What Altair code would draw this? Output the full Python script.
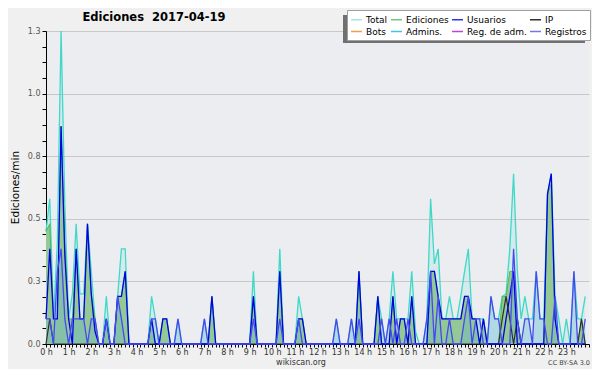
import altair as alt
import pandas as pd

# 10-minute bins over the day (0 h .. 23 h 50)
minutes = [i * 10 for i in range(144)]

total = [
    0.45, 0.58, 0.1, 0.4, 1.25, 0.55, 0.1, 0.2, 0.48, 0.2, 0.2, 0.48,
    0.29, 0.1, 0, 0, 0.19, 0, 0, 0.19, 0.38, 0.38, 0, 0,
    0, 0, 0, 0, 0.19, 0.1, 0, 0.1, 0.1, 0, 0, 0.1,
    0, 0, 0, 0, 0, 0, 0.1, 0, 0.19, 0, 0, 0,
    0, 0, 0, 0, 0, 0, 0, 0.29, 0, 0, 0, 0,
    0, 0, 0.38, 0, 0, 0, 0, 0.19, 0.1, 0, 0, 0,
    0, 0, 0, 0, 0, 0.1, 0, 0, 0, 0.1, 0, 0.29,
    0, 0, 0, 0, 0.19, 0.1, 0, 0.1, 0.29, 0.1, 0.1, 0.1,
    0.1, 0.29, 0.05, 0, 0, 0.1, 0.58, 0.32, 0.38, 0.1, 0.1, 0.19,
    0.1, 0.1, 0.19, 0.29, 0.38, 0.1, 0.1, 0.1, 0.1, 0, 0.19, 0.1,
    0.1, 0.19, 0.2, 0.38, 0.68, 0.29, 0.1, 0.19, 0.1, 0.1, 0.29, 0.1,
    0.1, 0.6, 0.68, 0.19, 0.1, 0, 0.1, 0, 0.29, 0.1, 0.1, 0.19,
]
ediciones = [
    0.45, 0.48, 0.1, 0.1, 0.87, 0.4, 0.1, 0.1, 0.38, 0.1, 0.1, 0.48,
    0.2, 0.1, 0, 0, 0.1, 0, 0, 0.19, 0.19, 0.29, 0, 0,
    0, 0, 0, 0, 0.1, 0, 0, 0.1, 0.1, 0, 0, 0,
    0, 0, 0, 0, 0, 0, 0, 0, 0.19, 0, 0, 0,
    0, 0, 0, 0, 0, 0, 0, 0.19, 0, 0, 0, 0,
    0, 0, 0.29, 0, 0, 0, 0, 0.1, 0.1, 0, 0, 0,
    0, 0, 0, 0, 0, 0, 0, 0, 0, 0, 0, 0.29,
    0, 0, 0, 0, 0.19, 0, 0, 0, 0.19, 0, 0.1, 0.1,
    0, 0.19, 0, 0, 0, 0, 0.29, 0.29, 0.19, 0.1, 0.1, 0.1,
    0.1, 0.1, 0.1, 0.19, 0.19, 0.1, 0.1, 0, 0.1, 0, 0, 0,
    0, 0.19, 0.19, 0.29, 0.29, 0.1, 0, 0, 0, 0, 0, 0,
    0, 0.6, 0.64, 0.1, 0, 0, 0, 0, 0, 0, 0.1, 0,
]
usuarios = [
    0.1, 0.38, 0.1, 0.1, 0.87, 0.35, 0.1, 0, 0.38, 0.1, 0.1, 0.48,
    0.2, 0.05, 0, 0, 0.1, 0, 0, 0.19, 0.19, 0.29, 0, 0,
    0, 0, 0, 0, 0.1, 0, 0, 0.1, 0.1, 0, 0, 0,
    0, 0, 0, 0, 0, 0, 0, 0, 0.19, 0, 0, 0,
    0, 0, 0, 0, 0, 0, 0, 0.19, 0, 0, 0, 0,
    0, 0, 0.29, 0, 0, 0, 0, 0.1, 0.1, 0, 0, 0,
    0, 0, 0, 0, 0, 0, 0, 0, 0, 0, 0, 0.29,
    0, 0, 0, 0, 0.19, 0, 0, 0, 0.19, 0, 0.1, 0.1,
    0, 0.19, 0, 0, 0, 0, 0.29, 0.29, 0.19, 0.1, 0.1, 0.1,
    0.1, 0.1, 0.1, 0.19, 0.19, 0.1, 0.1, 0, 0.1, 0, 0, 0,
    0, 0, 0.1, 0.19, 0.29, 0, 0, 0, 0, 0, 0, 0,
    0, 0.6, 0.68, 0.1, 0, 0, 0, 0, 0, 0, 0, 0,
]
registros = [
    0.1, 0.1, 0, 0.29, 0.38, 0.1, 0, 0.1, 0.1, 0.1, 0.1, 0,
    0.1, 0.1, 0, 0, 0.1, 0, 0, 0.19, 0.1, 0, 0, 0,
    0, 0, 0, 0, 0.1, 0.1, 0, 0, 0, 0, 0, 0.1,
    0, 0, 0, 0, 0, 0, 0.1, 0, 0, 0, 0, 0,
    0, 0, 0, 0, 0, 0, 0, 0.1, 0, 0, 0, 0,
    0, 0, 0.1, 0, 0, 0, 0, 0.1, 0, 0, 0, 0,
    0, 0, 0, 0, 0, 0.1, 0, 0, 0, 0.1, 0, 0.1,
    0, 0, 0, 0, 0, 0.1, 0, 0.1, 0, 0.1, 0, 0,
    0.1, 0, 0, 0, 0, 0.1, 0.29, 0, 0.19, 0, 0, 0.1,
    0, 0, 0, 0.1, 0.19, 0, 0.1, 0.1, 0, 0, 0.19, 0.1,
    0.1, 0, 0, 0, 0.38, 0.1, 0, 0.1, 0.1, 0, 0.29, 0.1,
    0.1, 0, 0, 0.19, 0, 0, 0, 0, 0.29, 0, 0, 0.1,
]
ip = [
    0, 0.1, 0, 0, 0, 0, 0, 0, 0, 0, 0, 0,
    0, 0, 0, 0, 0, 0, 0, 0, 0, 0, 0, 0,
    0, 0, 0, 0, 0, 0, 0, 0, 0, 0, 0, 0,
    0, 0, 0, 0, 0, 0, 0, 0, 0, 0, 0, 0,
    0, 0, 0, 0, 0, 0, 0, 0, 0, 0, 0, 0,
    0, 0, 0, 0, 0, 0, 0, 0, 0, 0, 0, 0,
    0, 0, 0, 0, 0, 0, 0, 0, 0, 0, 0, 0,
    0, 0, 0, 0, 0, 0, 0, 0, 0, 0, 0, 0,
    0, 0, 0, 0, 0, 0, 0, 0, 0, 0, 0, 0,
    0, 0, 0, 0, 0, 0, 0, 0, 0, 0, 0, 0,
    0, 0.1, 0.19, 0.1, 0, 0.1, 0, 0, 0, 0, 0, 0,
    0, 0, 0, 0, 0, 0, 0, 0, 0, 0, 0.1, 0,
]
bots = [0] * 144
admins = [
    0, 0, 0, 0, 0, 0, 0, 0.1, 0.1, 0.1, 0.1, 0,
    0, 0, 0, 0, 0, 0, 0, 0, 0, 0, 0, 0,
    0, 0, 0, 0, 0, 0, 0, 0, 0, 0, 0, 0,
    0, 0, 0, 0, 0, 0, 0, 0, 0, 0, 0, 0,
    0, 0, 0, 0, 0, 0, 0, 0.19, 0, 0, 0, 0,
    0, 0, 0, 0, 0, 0, 0, 0, 0, 0, 0, 0,
    0, 0, 0, 0, 0, 0, 0, 0, 0, 0, 0, 0,
    0, 0, 0, 0, 0, 0, 0, 0, 0, 0, 0, 0,
    0, 0, 0, 0, 0, 0, 0, 0, 0, 0, 0, 0,
    0, 0, 0, 0, 0, 0, 0, 0, 0, 0, 0, 0,
    0, 0, 0, 0, 0, 0, 0, 0, 0, 0, 0, 0,
    0, 0, 0, 0, 0, 0, 0.1, 0, 0, 0, 0, 0,
]
reg_adm = [
    0, 0, 0, 0, 0, 0, 0, 0, 0, 0, 0, 0,
    0, 0, 0, 0, 0, 0, 0, 0, 0, 0, 0, 0,
    0, 0, 0, 0, 0, 0, 0, 0, 0, 0, 0, 0,
    0, 0, 0, 0, 0, 0, 0, 0, 0, 0, 0, 0,
    0, 0, 0, 0, 0, 0, 0, 0, 0, 0, 0, 0,
    0, 0, 0, 0, 0, 0, 0, 0, 0, 0, 0, 0,
    0, 0, 0, 0, 0, 0, 0, 0, 0, 0, 0, 0,
    0, 0, 0, 0, 0, 0, 0, 0, 0, 0, 0, 0,
    0, 0, 0, 0, 0, 0, 0, 0, 0, 0, 0, 0,
    0, 0, 0, 0, 0, 0, 0, 0, 0, 0, 0, 0,
    0, 0, 0, 0, 0, 0, 0, 0, 0, 0, 0, 0,
    0, 0.1, 0, 0, 0, 0, 0, 0, 0, 0, 0, 0,
]

legend_names = ["Total", "Ediciones", "Usuarios", "IP",
                "Bots", "Admins.", "Reg. de adm.", "Registros"]
legend_colors = ["#a8e4e2", "#74c874", "#3434e0", "#303030",
                 "#f0a040", "#40c4e0", "#c040e0", "#7474f0"]

title_text = "Ediciones\u00a0 2017-04-19"
site_text = "wikiscan.org"
license_text = "CC BY-SA 3.0"

df = pd.DataFrame({
    "t": minutes, "Total": total, "Ediciones": ediciones, "Usuarios": usuarios,
    "IP": ip, "Bots": bots, "Admins.": admins, "Reg. de adm.": reg_adm,
    "Registros": registros,
})
long = df.melt(id_vars="t", var_name="serie", value_name="v")

FONT = "DejaVu Sans"

x_axis = alt.Axis(
    values=list(range(0, 1441, 10)),
    labelExpr="datum.value % 60 == 0 && datum.value < 1440 ? (datum.value / 60) + ' h' : ''",
    labelOverlap=False, labelFlush=False, labelBound=False,
    tickSize=3, tickColor="black", domainColor="black", domainWidth=1,
    labelFont=FONT, labelFontSize=8, labelColor="#333333", labelPadding=1,
    grid=False, title=None,
)
y_ticks = [k / 16 for k in range(21)]
y_axis = alt.Axis(
    values=y_ticks,
    labelExpr="(datum.value * 4) % 1 == 0 ? format(datum.value, '.1f') : ''",
    labelOverlap=False, labelFlush=False,
    tickSize=4, tickColor="black", domainColor="black", domainWidth=1,
    labelFont=FONT, labelFontSize=8, labelColor="#555555", labelPadding=2,
    grid=True, gridColor="#c8c8c8", gridWidth=1,
    gridOpacity={"condition": {"test": "(datum.value * 4) % 1 == 0 && datum.value > 0", "value": 1}, "value": 0},
    title="Ediciones/min", titleFont=FONT, titleFontSize=10.5, titleFontWeight="normal",
    titleColor="black", titleAngle=270, titleX=-31, titleY=156, titleAlign="center",
    titleBaseline="middle",
)
x_scale = alt.Scale(domain=[0, 1440], nice=False, zero=False)
y_scale = alt.Scale(domain=[0, 1.25], nice=False, clamp=True)


def X():
    return alt.X("t:Q", scale=x_scale, axis=x_axis)


def Y(field):
    return alt.Y(f"{field}:Q", scale=y_scale, axis=y_axis)


base = alt.Chart(df)

total_area = base.mark_area(color="#40d8c8", opacity=0.13).encode(x=X(), y=Y("Total"))
edic_area = base.mark_area(color="#94c894", opacity=1).encode(x=X(), y=Y("Ediciones"))
reg_area = base.mark_area(color="#64b4d2", opacity=0.32).encode(x=X(), y=Y("Registros"))

total_line = base.mark_line(color="#40d8c8", strokeWidth=1.3).encode(x=X(), y=Y("Total"))
edic_line = base.mark_line(color="#50b850", strokeWidth=1.0).encode(x=X(), y=Y("Ediciones"))
ip_line = base.mark_line(color="#303030", strokeWidth=1.2).encode(x=X(), y=Y("IP"))
adm_line = base.mark_line(color="#10c0e0", strokeWidth=1.3).encode(x=X(), y=Y("Admins."))
regadm_line = base.mark_line(color="#c040e0", strokeWidth=1.2).encode(x=X(), y=Y("Reg. de adm."))
usu_line = base.mark_line(color="#0000e6", strokeWidth=1.3).encode(x=X(), y=Y("Usuarios"))
reg_line = base.mark_line(color="#4848f0", strokeWidth=1.3).encode(x=X(), y=Y("Registros"))

legend_layer = alt.Chart(long).transform_filter("datum.v < 0").mark_line().encode(
    x=X(),
    y=alt.Y("v:Q", scale=y_scale, axis=y_axis),
    color=alt.Color(
        "serie:N",
        scale=alt.Scale(domain=legend_names, range=legend_colors),
        sort=legend_names,
        legend=alt.Legend(
            title=None, orient="none", legendX=301, legendY=-21,
            direction="horizontal", columns=4,
            symbolType="stroke", symbolSize=121, symbolStrokeWidth=1.5,
            symbolOpacity=1,
            labelFont=FONT, labelFontSize=9, labelColor="black", labelOffset=3,
            labelLimit=200,
            fillColor="white", strokeColor="#a0a0a0", padding=3,
            rowPadding=0, columnPadding=0,
        ),
    ),
)

one = pd.DataFrame({"title": [title_text], "site": [site_text], "lic": [license_text]})
shadow = alt.Chart(one).mark_rect(color="#707070").encode(
    x=alt.value(297), x2=alt.value(539), y=alt.value(-16), y2=alt.value(12)
)
title_mark = alt.Chart(one).mark_text(
    font=FONT, fontSize=11.5, fontWeight="bold", color="black",
    align="center", baseline="alphabetic",
).encode(text="title:N", x=alt.value(108), y=alt.value(-10))
site_mark = alt.Chart(one).mark_text(
    font=FONT, fontSize=8, color="#333333", align="center", baseline="alphabetic",
).encode(text="site:N", x=alt.value(255), y=alt.value(334))
lic_mark = alt.Chart(one).mark_text(
    font=FONT, fontSize=6.5, color="#444444", align="right", baseline="alphabetic",
).encode(text="lic:N", x=alt.value(544), y=alt.value(334))

chart = alt.layer(
    total_area, edic_area, reg_area,
    total_line, edic_line, ip_line, adm_line, regadm_line, usu_line, reg_line,
    legend_layer, shadow, title_mark, site_mark, lic_mark,
).properties(
    width=543, height=313,
    padding={"left": 38, "top": 23, "right": 3, "bottom": 25},
    autosize=alt.AutoSizeParams(type="none"),
).configure(
    background="#f0f0f0",
).configure_view(
    fill="#ecedf0", strokeWidth=0,
)

chart.save("out.html", embed_options={"renderer": "svg", "actions": False})
